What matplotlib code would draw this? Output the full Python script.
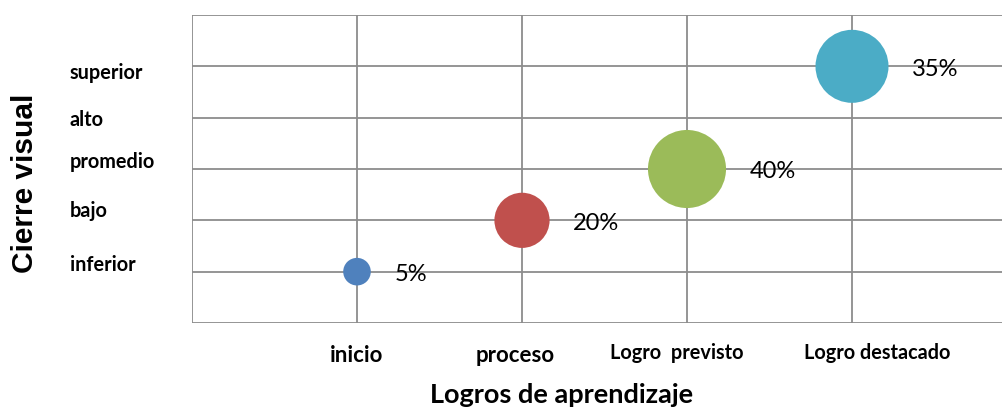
import matplotlib
matplotlib.use("Agg")
import matplotlib.pyplot as plt
from matplotlib.transforms import blended_transform_factory

# Data
x_levels = [1, 2, 3, 4]
y_levels = [1, 2, 3, 5]
percent = [5, 20, 40, 35]
labels_pct = ["5%", "20%", "40%", "35%"]
colors = ["#4F81BD", "#C0504D", "#9BBB59", "#4BACC6"]
x_tick_labels = ["inicio", "proceso", "Logro  previsto", "Logro destacado"]
y_tick_labels = ["inferior", "bajo", "promedio", "alto", "superior"]

W, H = 1003, 409
fig = plt.figure(figsize=(W/100, H/100), dpi=100)
ax = fig.add_axes([192/W, 1-323/H, 1-192/W, (323-15)/H])
ax.set_xlim(0, 811/165)
ax.set_ylim(0, 6)

grid_c = "#8c8c8c"
for xv in range(0, 5):
    ax.axvline(xv, color=grid_c, lw=1.3, zorder=1)
for yv in range(0, 7):
    ax.axhline(yv, color=grid_c, lw=1.3, zorder=1)
for s in ax.spines.values():
    s.set_visible(False)
ax.set_xticks([])
ax.set_yticks([])

k = 6.17 * 2 * 0.72
sizes = [(k ** 2) * p for p in percent]
ax.scatter(x_levels, y_levels, s=sizes, c=colors, zorder=3, linewidths=0)

for xv, yv, p, lab in zip(x_levels, y_levels, percent, labels_pct):
    r_pt = 6.17 * (p ** 0.5) * 0.72
    ax.annotate(lab, (xv, yv), xytext=(r_pt + 17, -2), textcoords="offset points",
                ha="left", va="center", fontsize=17, family="Lato", color="black")

# y category labels (text boxes left of plot)
y_label_pos = [1.13, 2.18, 3.14, 3.95, 4.87]
ty = blended_transform_factory(fig.transFigure, ax.transData)
for lab, yp in zip(y_tick_labels, y_label_pos):
    ax.text(70/W, yp, lab, transform=ty, ha="left", va="center",
            fontsize=14.3, fontweight="bold", family="Lato", clip_on=False)

# x category labels (text boxes below plot)
x_label_pos = [1.0, 1.96, 2.94, 4.15]
x_label_y = [355, 356, 353, 353]
x_label_size = [16, 16, 14.3, 14.3]
tx = blended_transform_factory(ax.transData, fig.transFigure)
for lab, xp, yp, fs in zip(x_tick_labels, x_label_pos, x_label_y, x_label_size):
    ax.text(xp, 1-yp/H, lab, transform=tx, ha="center", va="center",
            fontsize=fs, fontweight="bold", family="Lato", clip_on=False)

fig.text(562/W, 1-395/H, "Logros de aprendizaje", ha="center", va="center",
         fontsize=19.5, fontweight="bold", family="Lato")
fig.text(25/W, 1-183/H, "Cierre visual", ha="center", va="center", rotation=90,
         fontsize=21.5, fontweight="bold", family="Liberation Sans")

fig.savefig("out.png", dpi=100)
